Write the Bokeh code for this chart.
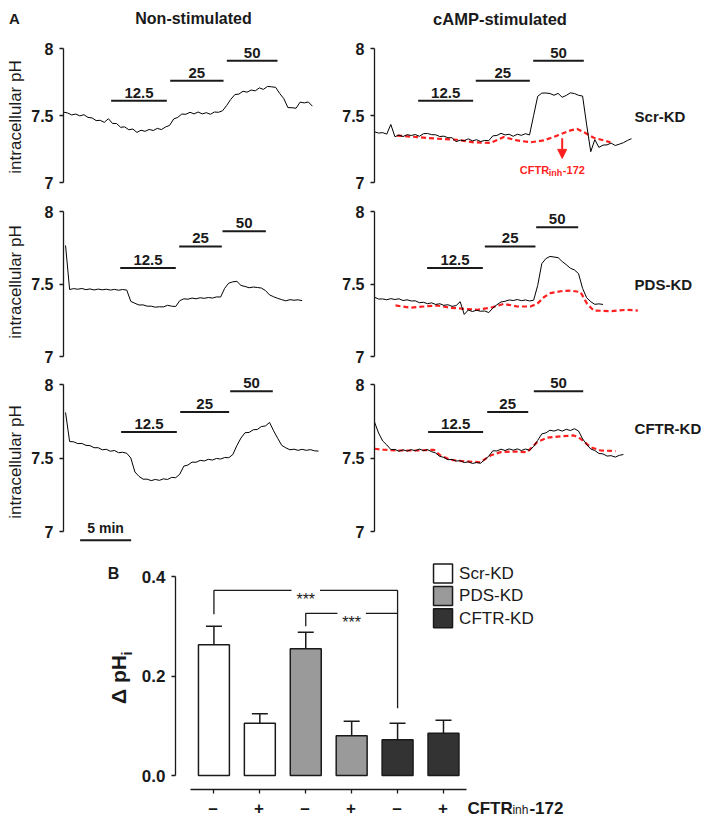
import math
from bokeh.plotting import figure
from bokeh.layouts import column, row
from bokeh.models import (Range1d, FixedTicker, Whisker, TeeHead, ColumnDataSource,
                          NumeralTickFormatter, Arrow, NormalHead)
from bokeh.core.properties import value
from bokeh.embed import file_html
from bokeh.resources import INLINE

FONT = "Liberation Sans"
INK = "#1a1a1a"
RED = "#ff1f1f"

# ------------------------------------------------------------------ DATA
ph_ticks = [7, 7.5, 8]
ph_tick_labels = ["7", "7.5", "8"]
conc_labels = ["12.5", "25", "50"]
row_names = ["Scr-KD", "PDS-KD", "CFTR-KD"]
column_titles = ["Non-stimulated", "cAMP-stimulated"]

# control recordings (black): pH sampled every SAMPLE_MIN minutes from the given start time
SAMPLE_MIN = 0.4
scr_non_start = 0.0
scr_non_ph = [7.525, 7.519, 7.504, 7.511, 7.497, 7.506, 7.486, 7.482, 7.462, 7.464,
              7.449, 7.476, 7.441, 7.44, 7.412, 7.415, 7.394, 7.399, 7.374, 7.39,
              7.382, 7.396, 7.388, 7.404, 7.395, 7.414, 7.426, 7.474, 7.486, 7.511,
              7.509, 7.524, 7.512, 7.526, 7.512, 7.521, 7.509, 7.526, 7.524, 7.536,
              7.575, 7.62, 7.656, 7.66, 7.681, 7.674, 7.69, 7.684, 7.706, 7.695,
              7.717, 7.714, 7.71, 7.664, 7.626, 7.559, 7.558, 7.554, 7.6, 7.594,
              7.601, 7.57]
scr_camp_start = 0.0
scr_camp_ph = [7.378, 7.369, 7.372, 7.361, 7.433, 7.342, 7.354, 7.343, 7.357, 7.351,
               7.358, 7.345, 7.364, 7.366, 7.357, 7.356, 7.343, 7.346, 7.334, 7.334,
               7.305, 7.316, 7.312, 7.326, 7.311, 7.319, 7.306, 7.314, 7.312, 7.348,
               7.351, 7.367, 7.355, 7.36, 7.345, 7.36, 7.352, 7.364, 7.355, 7.50,
               7.643, 7.667, 7.668, 7.664, 7.651, 7.665, 7.636, 7.65, 7.669, 7.664,
               7.651, 7.645, 7.43, 7.23, 7.32, 7.262, 7.279, 7.281, 7.294, 7.276,
               7.286, 7.297, 7.314, 7.327]
pds_non_start = 0.2
pds_non_ph = [7.766, 7.462, 7.468, 7.464, 7.469, 7.461, 7.466, 7.459, 7.465, 7.46,
              7.464, 7.458, 7.463, 7.457, 7.462, 7.458, 7.38, 7.367, 7.355, 7.356,
              7.347, 7.347, 7.34, 7.343, 7.342, 7.353, 7.347, 7.345, 7.385, 7.398,
              7.395, 7.403, 7.398, 7.405, 7.401, 7.407, 7.403, 7.411, 7.41, 7.47,
              7.506, 7.515, 7.518, 7.49, 7.483, 7.474, 7.479, 7.476, 7.472, 7.455,
              7.425, 7.412, 7.401, 7.392, 7.384, 7.392, 7.388, 7.391, 7.385]
pds_camp_start = 0.0
pds_camp_ph = [7.409, 7.396, 7.397, 7.391, 7.399, 7.393, 7.398, 7.386, 7.391, 7.383,
               7.384, 7.371, 7.374, 7.364, 7.37, 7.359, 7.364, 7.353, 7.357, 7.346,
               7.351, 7.378, 7.29, 7.321, 7.31, 7.319, 7.312, 7.314, 7.303, 7.333,
               7.357, 7.376, 7.381, 7.39, 7.386, 7.393, 7.385, 7.39, 7.383, 7.388,
               7.49, 7.64, 7.675, 7.69, 7.686, 7.682, 7.655, 7.633, 7.609, 7.597,
               7.572, 7.47, 7.405, 7.378, 7.36, 7.363, 7.359]
cftr_non_start = 0.2
cftr_non_ph = [7.81, 7.612, 7.61, 7.598, 7.599, 7.586, 7.584, 7.57, 7.57, 7.556,
               7.559, 7.546, 7.551, 7.536, 7.539, 7.532, 7.50, 7.405, 7.375, 7.356,
               7.356, 7.346, 7.354, 7.348, 7.358, 7.354, 7.368, 7.366, 7.39, 7.445,
               7.452, 7.472, 7.471, 7.484, 7.48, 7.491, 7.486, 7.497, 7.493, 7.503,
               7.502, 7.523, 7.585, 7.636, 7.672, 7.674, 7.692, 7.694, 7.714, 7.718,
               7.742, 7.685, 7.634, 7.586, 7.569, 7.556, 7.56, 7.552, 7.559, 7.552,
               7.557, 7.549, 7.547]
cftr_camp_start = 0.0
cftr_camp_ph = [7.745, 7.67, 7.616, 7.589, 7.558, 7.558, 7.546, 7.556, 7.547, 7.557,
                7.549, 7.561, 7.55, 7.557, 7.543, 7.534, 7.511, 7.504, 7.488, 7.491,
                7.479, 7.482, 7.469, 7.474, 7.463, 7.469, 7.464, 7.489, 7.512, 7.549,
                7.548, 7.56, 7.551, 7.562, 7.553, 7.562, 7.551, 7.561, 7.553, 7.578,
                7.62, 7.664, 7.671, 7.689, 7.683, 7.693, 7.683, 7.695, 7.687, 7.699,
                7.684, 7.63, 7.593, 7.561, 7.551, 7.531, 7.528, 7.513, 7.516, 7.506,
                7.518, 7.524]

# recordings with CFTRinh-172 (red dashed): time (min), pH
scr_inh_t = [2.22, 4.18, 6.14, 8.1, 9.74, 11.37, 12.68, 13.99, 15.29, 16.6, 17.91, 19.22, 19.87,
             20.52, 21.5, 22.48, 23.14]
scr_inh_ph = [7.35, 7.339, 7.327, 7.319, 7.30, 7.295, 7.339, 7.314, 7.30, 7.314, 7.35, 7.389,
              7.40, 7.376, 7.334, 7.314, 7.30]
pds_inh_t = [2.06, 3.53, 4.84, 6.14, 7.45, 8.76, 10.07, 11.37, 12.68, 13.99, 15.29, 15.95, 16.6,
             17.25, 18.24, 19.22, 20.2, 20.85, 21.5, 23.14, 24.77, 25.82]
pds_inh_ph = [7.352, 7.336, 7.345, 7.352, 7.336, 7.329, 7.322, 7.336, 7.363, 7.345, 7.345, 7.363,
              7.409, 7.437, 7.45, 7.455, 7.444, 7.363, 7.317, 7.313, 7.322, 7.317]
cftr_inh_t = [0, 0.92, 2.22, 4.18, 5.82, 6.47, 7.45, 8.76, 10.39, 11.37, 12.35, 13.66, 14.97,
              15.95, 16.93, 18.24, 19.54, 20.2, 21.18, 22.16, 23.63]
cftr_inh_ph = [7.563, 7.556, 7.551, 7.551, 7.556, 7.517, 7.487, 7.478, 7.471, 7.517, 7.54, 7.544,
               7.54, 7.608, 7.638, 7.647, 7.654, 7.631, 7.574, 7.551, 7.547]

# concentration application bars: start, end (min), drawn level (pH units)
scr_non_pulse_start = [4.67, 10.46, 16.01]
scr_non_pulse_end = [10.13, 15.69, 20.98]
scr_non_pulse_level = [7.611, 7.76, 7.908]
scr_camp_pulse_start = [4.28, 9.93, 15.56]
scr_camp_pulse_end = [9.67, 15.23, 20.52]
scr_camp_pulse_level = [7.611, 7.76, 7.908]
pds_non_pulse_start = [5.56, 11.34, 15.59]
pds_non_pulse_end = [11.01, 15.52, 19.84]
pds_non_pulse_level = [7.611, 7.759, 7.864]
pds_camp_pulse_start = [5.16, 10.82, 15.85]
pds_camp_pulse_end = [10.62, 15.78, 19.97]
pds_camp_pulse_level = [7.611, 7.759, 7.892]
cftr_non_pulse_start = [5.65, 11.44, 16.34]
cftr_non_pulse_end = [11.11, 16.24, 20.52]
cftr_non_pulse_level = [7.677, 7.813, 7.954]
cftr_camp_pulse_start = [5.26, 11.05, 15.62]
cftr_camp_pulse_end = [10.65, 15.07, 20.46]
cftr_camp_pulse_level = [7.677, 7.813, 7.954]

scale_bar_min = [1.63, 6.63]

# Panel B
bar_groups = ["Scr-KD", "Scr-KD", "PDS-KD", "PDS-KD", "CFTR-KD", "CFTR-KD"]
inhibitor = ["\u2013", "+", "\u2013", "+", "\u2013", "+"]
dph_mean = [0.263, 0.105, 0.255, 0.080, 0.072, 0.085]
dph_sem = [0.037, 0.019, 0.033, 0.029, 0.033, 0.026]
group_names = ["Scr-KD", "PDS-KD", "CFTR-KD"]
group_colors = ["#ffffff", "#9a9a9a", "#333333"]
sig_from = [1, 3]
sig_to = [5, 5]
sig_level = [0.372, 0.326]
sig_left_end = [0.324, 0.300]
sig_right_end = [0.135, 0.326]
sig_text = ["***", "***"]
dph_ticks = [0.0, 0.2, 0.4]

# ------------------------------------------------------------------ LAYOUT
TOTAL_W = 701
HEAD_H = 38
ROW_SPECS = [(157, 10, 134), (173, 16, 145), (187, 16, 147)]  # height, px above pH 8, px per pH
LEFT_W, LEFT_B = 330, 63
RIGHT_W, RIGHT_B = TOTAL_W - 330, 44
PX_PER_MIN = 10.2


def sample_times(start, ph):
    return [start + i * SAMPLE_MIN for i in range(len(ph))]


def bare_figure(**kw):
    p = figure(toolbar_location=None, output_backend="svg", **kw)
    p.outline_line_color = None
    p.grid.visible = False
    return p


def style_axis(ax, size="16px"):
    ax.axis_line_color = INK
    ax.axis_line_width = 1.3
    ax.major_tick_line_color = INK
    ax.major_tick_line_width = 1.3
    ax.major_tick_out = 4
    ax.major_tick_in = 0
    ax.minor_tick_out = 0
    ax.minor_tick_in = 0
    ax.major_label_text_font = FONT
    ax.major_label_text_font_style = "bold"
    ax.major_label_text_font_size = size
    ax.major_label_text_color = INK


def txt(p, x, y, s, size, bold=True, align="center", baseline="middle", color=INK, **kw):
    p.text(x=x, y=y, text=s, text_font=value(FONT), text_font_style="bold" if bold else "normal",
           text_font_size=size, text_align=align, text_baseline=baseline, text_color=color, **kw)


# header strip (panel letter and column titles), pixel coordinates
head = bare_figure(width=TOTAL_W, height=HEAD_H, x_range=Range1d(0, TOTAL_W),
                   y_range=Range1d(HEAD_H, 0), x_axis_location=None, y_axis_location=None,
                   min_border_left=0, min_border_right=0, min_border_top=0, min_border_bottom=0)
txt(head, [14], [18], ["A"], "15px")
txt(head, [193], [18], [column_titles[0]], "16px")
txt(head, [499.5], [18], [column_titles[1]], "16.5px")


def make_trace_panel(r, c):
    h, top8, ppu = ROW_SPECS[r]
    w, b = (LEFT_W, LEFT_B) if c == 0 else (RIGHT_W, RIGHT_B)
    p = bare_figure(width=w, height=h,
                    x_range=Range1d(0, (w - b) / PX_PER_MIN),
                    y_range=Range1d(8 - (h - top8) / ppu, 8 + top8 / ppu),
                    x_axis_location=None,
                    min_border_left=b, min_border_right=0, min_border_top=0, min_border_bottom=0)
    ax = p.yaxis[0]
    ax.bounds = (7, 8)
    ax.ticker = FixedTicker(ticks=ph_ticks, minor_ticks=[])
    ax.major_label_overrides = {t: l for t, l in zip(ph_ticks, ph_tick_labels)}
    style_axis(ax)
    ax.major_label_standoff = 6
    if c == 0:
        ax.axis_label = "intracellular pH"
        ax.axis_label_text_font = FONT
        ax.axis_label_text_font_style = "normal"
        ax.axis_label_text_font_size = "17px"
        ax.axis_label_text_color = INK
        ax.axis_label_standoff = 3
    return p


def add_pulses(p, start, end, level):
    p.segment(x0=start, y0=level, x1=end, y1=level, line_color=INK, line_width=2)
    mids = [(a + b) / 2 for a, b in zip(start, end)]
    txt(p, mids, level, conc_labels, "15px", baseline="alphabetic", y_offset=-8)


panels = {
    (0, 0): (scr_non_start, scr_non_ph, None, None, scr_non_pulse_start, scr_non_pulse_end, scr_non_pulse_level),
    (0, 1): (scr_camp_start, scr_camp_ph, scr_inh_t, scr_inh_ph, scr_camp_pulse_start, scr_camp_pulse_end, scr_camp_pulse_level),
    (1, 0): (pds_non_start, pds_non_ph, None, None, pds_non_pulse_start, pds_non_pulse_end, pds_non_pulse_level),
    (1, 1): (pds_camp_start, pds_camp_ph, pds_inh_t, pds_inh_ph, pds_camp_pulse_start, pds_camp_pulse_end, pds_camp_pulse_level),
    (2, 0): (cftr_non_start, cftr_non_ph, None, None, cftr_non_pulse_start, cftr_non_pulse_end, cftr_non_pulse_level),
    (2, 1): (cftr_camp_start, cftr_camp_ph, cftr_inh_t, cftr_inh_ph, cftr_camp_pulse_start, cftr_camp_pulse_end, cftr_camp_pulse_level),
}

row_label_y = [7.495, 7.497, 7.70]

rows = [row(head)]
for r in range(3):
    figs = []
    for c in range(2):
        b0, bph, rt, rph, ps, pe, pl = panels[(r, c)]
        p = make_trace_panel(r, c)
        if rt is not None:
            p.line(rt, rph, line_color=RED, line_width=2.2, line_dash="5 3")
        p.line(sample_times(b0, bph), bph, line_color="black", line_width=1)
        add_pulses(p, ps, pe, pl)
        if c == 1:
            txt(p, [25.5], [row_label_y[r]], [row_names[r]], "15px", align="left")
        if r == 0 and c == 1:
            p.add_layout(Arrow(end=NormalHead(size=9, fill_color=RED, line_color=RED),
                               x_start=18.4, y_start=7.33, x_end=18.4, y_end=7.18,
                               line_color=RED, line_width=2))
            for s, dx, dy, fs in [("CFTR", 0, 0, "11px"), ("inh", 29, 3, "9px"), ("-172", 43, 0, "11px")]:
                txt(p, [14.25], [7.092], [s], fs, align="left", color=RED, x_offset=dx, y_offset=dy)
        if r == 2 and c == 0:
            p.segment(x0=[scale_bar_min[0]], y0=[6.94], x1=[scale_bar_min[1]], y1=[6.94],
                      line_color=INK, line_width=2)
            txt(p, [sum(scale_bar_min) / 2], [7.027], ["5 min"], "14px")
        figs.append(p)
    rows.append(row(*figs))

# ------------------------------------------------------------------ PANEL B
B_FRAME_LEFT = 174
B_H, B_STRIP = 239, 24
B_LEFTSTRIP = 138
B_LEFT = B_FRAME_LEFT - B_LEFTSTRIP
B_BOTTOM = 5
B_UNIT = 46.0
B_PPU = 497.5
B_X0 = 0.163
b_x_range = Range1d(B_X0, B_X0 + (TOTAL_W - B_FRAME_LEFT) / B_UNIT)
b_y_range = Range1d(-14 / B_PPU, 220 / B_PPU)

pb = bare_figure(width=TOTAL_W - B_LEFTSTRIP, height=B_H, x_range=b_x_range, y_range=b_y_range,
                 min_border_left=B_LEFT, min_border_bottom=B_BOTTOM, min_border_top=0,
                 min_border_right=0)

xs = list(range(1, len(dph_mean) + 1))
colors = [group_colors[group_names.index(g)] for g in bar_groups]
src = ColumnDataSource(dict(x=xs, top=dph_mean,
                            upper=[m + s for m, s in zip(dph_mean, dph_sem)], color=colors))
pb.vbar(x="x", top="top", width=31 / B_UNIT, fill_color="color", line_color=INK,
        line_width=1.5, source=src)
pb.add_layout(Whisker(base="x", lower="top", upper="upper", source=src, dimension="height",
                      line_color=INK, line_width=1.5, level="glyph",
                      upper_head=TeeHead(size=16, line_color=INK, line_width=1.5),
                      lower_head=None))

# significance brackets
gap = 0.31
b_xs, b_ys, st_x, st_y = [], [], [], []
for a, bb, lv, le, re_ in zip(sig_from, sig_to, sig_level, sig_left_end, sig_right_end):
    mid = (a + bb) / 2
    b_xs += [[a, a, mid - gap], [mid + gap, bb, bb]]
    b_ys += [[le, lv, lv], [lv, lv, re_]]
    st_x.append(mid)
    st_y.append(lv)
pb.multi_line(b_xs, b_ys, line_color=INK, line_width=1.3)
txt(pb, st_x, st_y, sig_text, "16px", bold=False, baseline="alphabetic", y_offset=9)

# legend
leg_y = [0.406, 0.361, 0.316]
pb.scatter(x=[5.99] * 3, y=leg_y, marker="square", size=19, fill_color=group_colors,
           line_color=INK, line_width=1.5)
txt(pb, [6.34] * 3, leg_y, group_names, "17px", bold=False, align="left")

yax = pb.yaxis[0]
yax.bounds = (0, 0.4)
yax.ticker = FixedTicker(ticks=dph_ticks, minor_ticks=[])
yax.formatter = NumeralTickFormatter(format="0.0")
style_axis(yax, "17px")
yax.major_label_standoff = 6

xax = pb.xaxis[0]
xax.bounds = (0.49, 6.51)
xax.ticker = FixedTicker(ticks=xs, minor_ticks=[])
style_axis(xax, "17px")
xax.major_label_standoff = 0
xax.major_label_text_color = None   # inhibitor labels are set in the strip below

# left strip of panel B: panel letter and y-axis title (pixel x, shared y scale)
pl_left = bare_figure(width=B_LEFTSTRIP, height=B_H, x_range=Range1d(0, B_LEFTSTRIP),
                      y_range=b_y_range, x_axis_location=None, y_axis_location=None,
                      min_border_left=0, min_border_right=0, min_border_top=0,
                      min_border_bottom=B_BOTTOM)
txt(pl_left, [113], [0.406], ["B"], "16px")
txt(pl_left, [118], [0.193], ["\u0394 pH"], "21px", angle=math.pi / 2)
txt(pl_left, [126], [0.245], ["i"], "14px", angle=math.pi / 2)

# bottom strip of panel B: inhibitor row labels at the bar positions
strip = bare_figure(width=TOTAL_W, height=B_STRIP, x_range=b_x_range, y_range=Range1d(0, 1),
                    x_axis_location=None, y_axis_location=None,
                    min_border_left=B_FRAME_LEFT, min_border_right=0, min_border_top=0,
                    min_border_bottom=0)
txt(strip, xs, [0.42] * len(xs), inhibitor, "17px")
for s, dx, fs, bold in [("CFTR", 0, "17px", True), ("inh", 45, "12px", False), ("-172", 62, "17px", True)]:
    txt(strip, [6.53], [0.42], [s], fs, bold=bold, align="left", x_offset=dx,
        y_offset=2 if s == "inh" else 0)

layout = column(*rows, row(pl_left, pb), row(strip))
open("out.html", "w").write(file_html(layout, INLINE))
